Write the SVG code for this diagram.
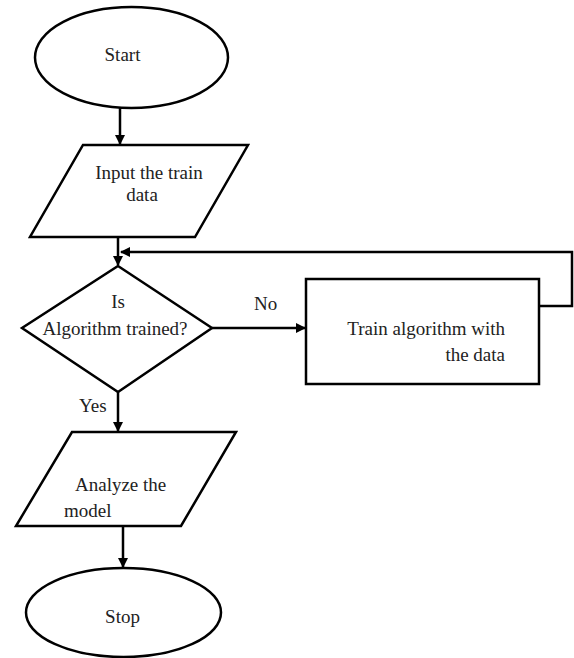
<svg xmlns="http://www.w3.org/2000/svg" width="574" height="658" viewBox="0 0 574 658">
<style>
.s{fill:#fff;stroke:#000;stroke-width:2.5}
.c{fill:none;stroke:#000;stroke-width:2.5}
text{font-family:'Liberation Serif','DejaVu Serif',serif;font-size:19px;fill:#222}
</style>
<defs>
<marker id="a" viewBox="0 0 10 10" refX="9" refY="5" markerWidth="4" markerHeight="4" orient="auto" markerUnits="strokeWidth">
<path d="M0,0 L10,5 L0,10 z" fill="#000"/>
</marker>
</defs>
<rect width="574" height="658" fill="#fff"/>
<g id="connectors">
<line class="c" x1="120" y1="108" x2="120" y2="144" marker-end="url(#a)"/>
<line class="c" x1="118" y1="237" x2="118" y2="265" marker-end="url(#a)"/>
<polyline class="c" points="539,306 572,306 572,252 121,252" marker-end="url(#a)"/>
<line class="c" x1="212" y1="328" x2="305" y2="328" marker-end="url(#a)"/>
<line class="c" x1="118" y1="392" x2="118" y2="431" marker-end="url(#a)"/>
<line class="c" x1="123" y1="526" x2="123" y2="567" marker-end="url(#a)"/>
<text x="254" y="310" font-family="Liberation Serif, serif">No</text>
<text x="79" y="412" font-family="Liberation Serif, serif">Yes</text>
</g>
<g id="start">
<ellipse class="s" cx="131.5" cy="57.5" rx="96.5" ry="50.5"/>
<text x="122.5" y="61" text-anchor="middle">Start</text>
</g>
<g id="input">
<polygon class="s" points="83,145 248,145 195,237 30,237"/>
<text x="149" y="179" text-anchor="middle">Input the train</text>
<text x="142" y="201" text-anchor="middle">data</text>
</g>
<g id="decision">
<polygon class="s" points="118,266 212,328 118,392 22,328"/>
<text x="118" y="308" text-anchor="middle">Is</text>
<text x="115" y="335" text-anchor="middle">Algorithm trained?</text>
</g>
<g id="train">
<rect class="s" x="306" y="279" width="233" height="105"/>
<text x="505" y="335" text-anchor="end">Train algorithm with</text>
<text x="505" y="361" text-anchor="end">the data</text>
</g>
<g id="analyze">
<polygon class="s" points="72,432 236,432 181,526 16,526"/>
<text x="75" y="491">Analyze the</text>
<text x="64" y="517">model</text>
</g>
<g id="stop">
<ellipse class="s" cx="123.5" cy="612.5" rx="97.5" ry="44.5"/>
<text x="122.5" y="623" text-anchor="middle">Stop</text>
</g>
</svg>
